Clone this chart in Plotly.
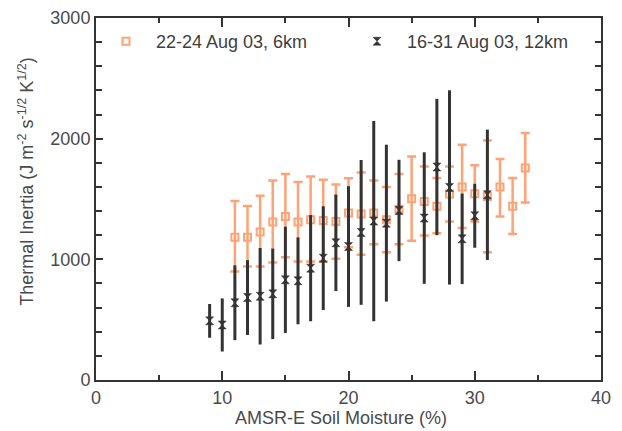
import plotly.graph_objects as go

# Orange series: 22-24 Aug 03, 6km
x_6km = [11, 12, 13, 14, 15, 16, 17, 18, 19, 20, 21, 22, 23, 24, 25, 26, 27, 28, 29, 30, 31, 32, 33, 34]
ti_6km = [1184, 1184, 1226, 1309, 1355, 1309, 1328, 1322, 1314, 1383, 1375, 1383, 1328, 1416, 1502, 1480, 1439, 1541, 1599, 1544, 1521, 1599, 1439, 1757]
up_6km = [300, 257, 300, 345, 352, 332, 359, 338, 307, 288, 344, 271, 271, 291, 351, 290, 235, 229, 351, 235, 463, 233, 235, 290]
dn_6km = [285, 244, 286, 335, 337, 327, 346, 340, 310, 282, 338, 257, 269, 290, 348, 282, 222, 227, 340, 230, 462, 244, 230, 286]

# Black series: 16-31 Aug 03, 12km
x_12km = [9, 10, 11, 12, 13, 14, 15, 16, 17, 18, 19, 20, 21, 22, 23, 24, 26, 27, 28, 29, 30, 31]
ti_12km = [490, 456, 640, 683, 694, 714, 830, 822, 927, 1010, 1137, 1106, 1223, 1317, 1300, 1405, 1342, 1765, 1596, 1170, 1361, 1535]
err_12km = [140, 220, 310, 310, 400, 375, 440, 360, 440, 430, 400, 500, 600, 830, 650, 420, 545, 565, 805, 375, 265, 540]

x_ticks = [0, 10, 20, 30, 40]
y_ticks = [0, 1000, 2000, 3000]

ORANGE = "#FFA275"
DARK = "#333333"
TEXT = "#4a4a4a"
FONT = "Liberation Sans, Arial, sans-serif"

fig = go.Figure()
fig.add_trace(go.Scatter(
    x=x_6km, y=ti_6km, mode="markers", name="22-24 Aug 03, 6km",
    marker=dict(symbol="square-open", size=7, color=ORANGE, line=dict(width=2, color=ORANGE)),
    error_y=dict(type="data", symmetric=False, array=up_6km, arrayminus=dn_6km,
                 color=ORANGE, thickness=2.5, width=4.5),
    legend="legend", showlegend=True,
))
fig.add_trace(go.Scatter(
    x=x_12km, y=ti_12km, mode="markers", name="16-31 Aug 03, 12km",
    marker=dict(symbol="hourglass", size=8, color=DARK, line=dict(width=0.5, color=DARK)),
    error_y=dict(type="data", array=err_12km, color=DARK, thickness=3, width=0),
    legend="legend2", showlegend=True,
))

axis_common = dict(
    showline=True, linecolor=DARK, linewidth=2, mirror="ticks",
    ticks="inside", tickcolor=DARK, tickwidth=2,
    showgrid=False, zeroline=False, automargin=False,
    tickfont=dict(family=FONT, size=18, color=TEXT),
)

fig.update_xaxes(
    range=[0, 40], tickvals=x_ticks, ticklen=9,
    minor=dict(dtick=5, ticks="inside", ticklen=5, tickcolor=DARK, tickwidth=2),
    **axis_common,
)
fig.update_yaxes(
    range=[0, 3000], tickvals=y_ticks, ticklen=7,
    minor=dict(dtick=200, ticks="inside", ticklen=6, tickcolor=DARK, tickwidth=2),
    **axis_common,
)

legend_common = dict(
    orientation="h", yanchor="middle", y=0.935, xanchor="left",
    bgcolor="rgba(0,0,0,0)", borderwidth=0,
    font=dict(family=FONT, size=18, color="#404040"),
    itemwidth=50, visible=True,
)
fig.update_layout(
    width=614, height=423,
    margin=dict(l=88, r=21, t=10, b=51),
    paper_bgcolor="white", plot_bgcolor="white",
    showlegend=True,
    legend=dict(x=0.0, **legend_common),
    legend2=dict(x=0.497, **legend_common),
    annotations=[
        dict(text="AMSR-E Soil Moisture (%)", xref="paper", yref="paper",
             x=0.486, y=-0.105, xanchor="center", yanchor="middle", showarrow=False,
             font=dict(family=FONT, size=18, color=TEXT)),
        dict(text="Thermal Inertia (J m<sup>-2</sup> s<sup>-1/2</sup> K<sup>1/2</sup>)",
             xref="paper", yref="paper", x=-0.137, y=0.55, xanchor="center", yanchor="middle",
             textangle=-90, showarrow=False,
             font=dict(family=FONT, size=18, color=TEXT)),
    ],
)

fig.write_html("out.html")
